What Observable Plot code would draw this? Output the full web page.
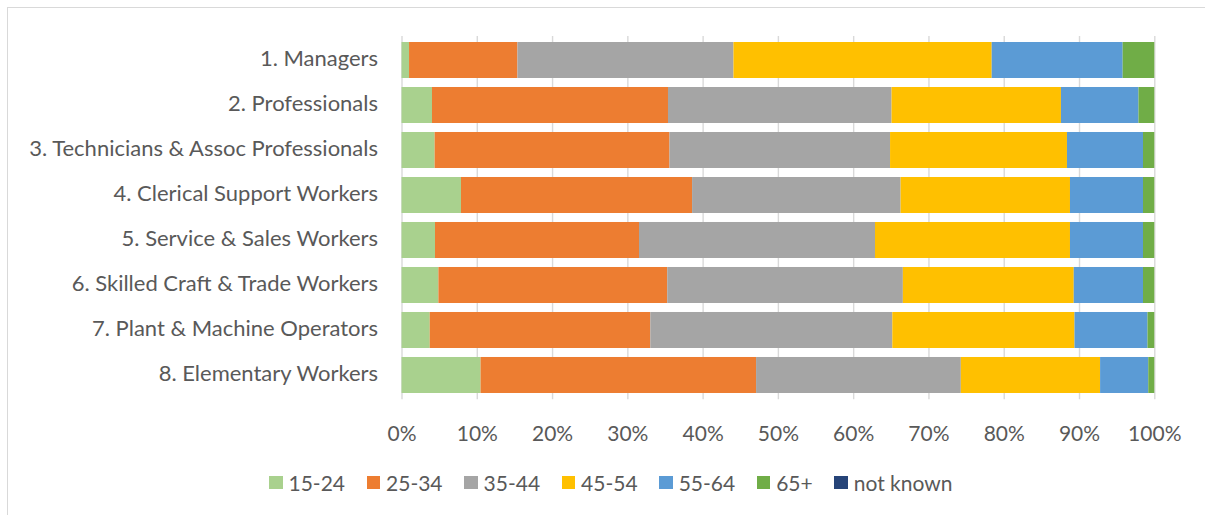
<!DOCTYPE html>
<html>
<head>
<meta charset="utf-8">
<script src="https://cdn.jsdelivr.net/npm/d3@7"></script>
<script src="https://cdn.jsdelivr.net/npm/@observablehq/plot@0.6"></script>
<style>
  html, body { margin: 0; padding: 0; background: #fff; }
  body { width: 1205px; height: 515px; position: relative; overflow: hidden; font-family: Lato, "Noto Sans", sans-serif; }
  #frame { position: absolute; left: 7px; top: 7px; width: 1220px; height: 540px; border: 1px solid #d9d9d9; box-sizing: border-box; }
  #chart { position: absolute; left: 0; top: 0; }
  #legend { position: absolute; left: 269px; top: 470px; display: flex; align-items: center; font-size: 21px; color: #595959; white-space: nowrap; }
  #legend .item { display: flex; align-items: center; margin-right: 21.5px; }
  #legend .sw { width: 13.5px; height: 13.5px; margin-right: 6px; }
</style>
</head>
<body>
<div id="frame"></div>
<div id="chart"></div>
<div id="legend"></div>
<script>
const categories = [
  "1. Managers",
  "2. Professionals",
  "3. Technicians & Assoc Professionals",
  "4. Clerical Support Workers",
  "5. Service & Sales Workers",
  "6. Skilled Craft & Trade Workers",
  "7. Plant & Machine Operators",
  "8. Elementary Workers"
];
const ageGroups = ["15-24", "25-34", "35-44", "45-54", "55-64", "65+", "not known"];
const ageColors = ["#A9D18E", "#ED7D31", "#A5A5A5", "#FFC000", "#5B9BD5", "#70AD47", "#264478"];

// share (%) of each occupation group, per age band, in category order
const age15_24  = [1.0, 4.05, 4.4, 7.9, 4.45, 4.9, 3.75, 10.5];
const age25_34  = [14.4, 31.35, 31.2, 30.7, 27.1, 30.4, 29.3, 36.6];
const age35_44  = [28.7, 29.7, 29.3, 27.7, 31.35, 31.3, 32.15, 27.2];
const age45_54  = [34.3, 22.5, 23.5, 22.5, 25.9, 22.7, 24.2, 18.5];
const age55_64  = [17.4, 10.3, 10.1, 9.7, 9.7, 9.2, 9.7, 6.4];
const age65plus = [4.2, 2.1, 1.5, 1.5, 1.5, 1.5, 0.9, 0.8];
const ageUnknown = [0, 0, 0, 0, 0, 0, 0, 0];

const xTicks = [0, 10, 20, 30, 40, 50, 60, 70, 80, 90, 100];

const seriesValues = [age15_24, age25_34, age35_44, age45_54, age55_64, age65plus, ageUnknown];
const rows = [];
ageGroups.forEach((g, gi) => {
  categories.forEach((c, ci) => {
    rows.push({category: c, age: g, order: gi, value: seriesValues[gi][ci]});
  });
});

const marginTop = 36;
const bandBottom = 399.2;
const marginBottom = 52;
const height = bandBottom + marginBottom;

const chart = Plot.plot({
  width: 1205,
  height: height,
  marginLeft: 401.5,
  marginRight: 50.7,
  marginTop: marginTop,
  marginBottom: marginBottom,
  style: { fontFamily: "Lato, 'Noto Sans', sans-serif", fontSize: "21px", color: "#595959", background: "transparent" },
  x: { domain: [0, 100] },
  y: { domain: categories, paddingInner: 0.2, paddingOuter: 0.1 },
  color: { domain: ageGroups, range: ageColors },
  marks: [
    Plot.ruleX(xTicks, { stroke: "#d9d9d9", strokeWidth: 1.4 }),
    Plot.barX(rows, Plot.stackX({
      x: "value",
      y: "category",
      fill: "age",
      order: "order"
    })),
    Plot.axisX({
      ticks: xTicks,
      tickSize: 0,
      tickPadding: 26,
      tickFormat: d => d + "%",
      fill: "#595959",
      fontSize: 21,
      label: null
    }),
    Plot.axisY({
      tickSize: 0,
      tickPadding: 24,
      dy: -2,
      fill: "#595959",
      fontSize: 22,
      label: null
    })
  ]
});
document.getElementById("chart").appendChild(chart);

const legend = d3.select("#legend");
ageGroups.forEach((g, i) => {
  const item = legend.append("div").attr("class", "item");
  item.append("div").attr("class", "sw").style("background", ageColors[i]);
  item.append("span").text(g);
});
</script>
</body>
</html>
